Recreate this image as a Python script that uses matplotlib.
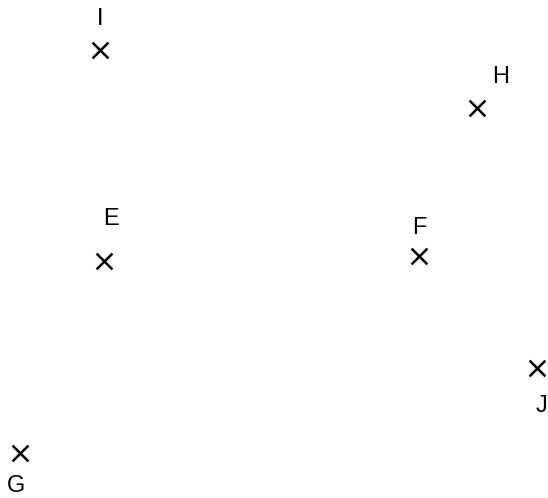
import matplotlib
matplotlib.use("Agg")
import matplotlib.pyplot as plt

default_font = "Liberation Sans"

# point positions (y grows downward)
names = ["I", "H", "E", "F", "J", "G"]
xs = [100, 477, 104, 419, 537, 20]
ys = [50, 108, 261, 256, 368, 453]
# label offsets from the marker, in points
label_dx = [0, 17, 5, 0, 3, -3]
label_dy = [22, 22, 30, 20, -27, -24]

fig = plt.figure(figsize=(5.48, 4.98), dpi=100)
ax = fig.add_axes([0, 0, 1, 1])
ax.scatter(xs, ys, marker="x", s=130, c="black", linewidths=1.8)
for name, x, y, dx, dy in zip(names, xs, ys, label_dx, label_dy):
    ax.annotate(name, (x, y), xytext=(dx, dy), textcoords="offset points",
                ha="center", va="center", fontsize=17,
                fontfamily=default_font)
ax.set_xlim(0, 548)
ax.set_ylim(498, 0)
ax.axis("off")
fig.savefig("out.png", dpi=100)
